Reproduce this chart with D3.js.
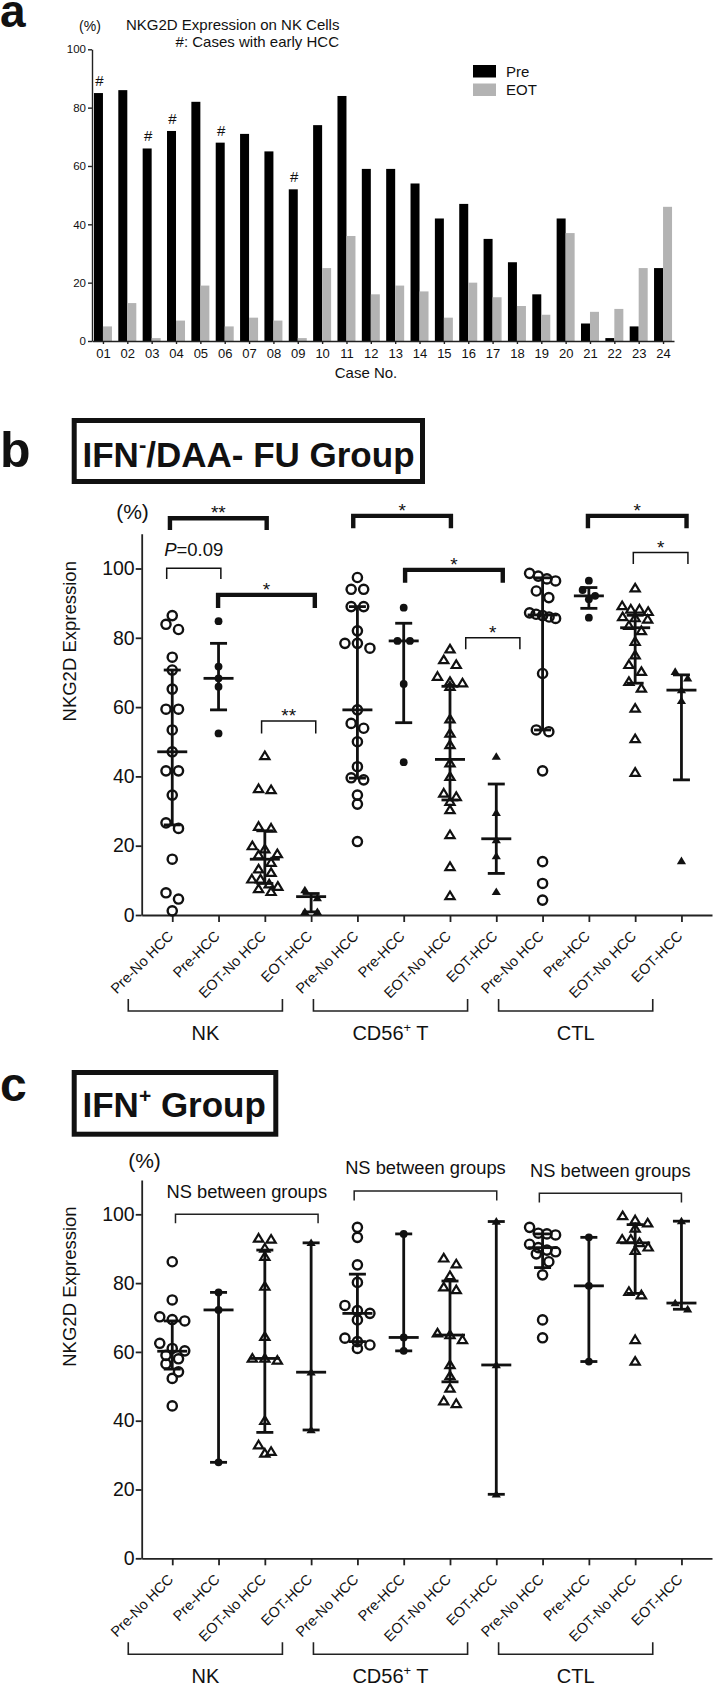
<!DOCTYPE html>
<html><head><meta charset="utf-8">
<script src="https://cdn.jsdelivr.net/npm/d3@7"></script>
<style>
body{margin:0;background:#fff;}
svg{display:block;font-family:"Liberation Sans",Arial,Helvetica,sans-serif;}
</style></head><body>
<svg id="chart" width="714" height="1688"></svg>
<script>
// ---------------- DATA ----------------
// Panel a
const cases = ["01","02","03","04","05","06","07","08","09","10","11","12","13","14","15","16","17","18","19","20","21","22","23","24"];
const preValues = [85,86,66,72,82,68,71,65,52,74,84,59,59,54,42,47,35,27,16,42,6,1,5,25];
const eotValues = [5,13,1,7,19,5,8,7,1,25,36,16,19,17,8,20,15,12,9,37,10,11,25,46];
const earlyHCC = ["01","03","04","06","09"];
const ticksA = [0,20,40,60,80,100];

// Panels b, c categories
const subgroups = ["Pre-No HCC","Pre-HCC","EOT-No HCC","EOT-HCC"];
const cellTypes = ["NK","CD56","CTL"];
const markerKinds = ["openCircle","filledCircle","openTriangle","filledTriangle"];
const ticksBC = [0,20,40,60,80,100];

// Panel b: IFN-/DAA- FU group (order: Pre-No HCC, Pre-HCC, EOT-No HCC, EOT-HCC)
const bNK = [
  [86.4,83.9,82.4,74.4,70.7,65.2,59.4,59.4,53.4,47.1,41.6,41.6,34.6,26.6,25.0,16.1,6.4,4.6,1.2],
  [84.8,71.7,68.3,65.9,52.4],
  [45.9,36.4,36.1,25.5,25.0,19.9,19.0,17.6,17.3,15.1,13.2,12.2,10.3,10.3,8.9,8.2,7.5,6.7],
  [7.2,4.9,0.9,0.9]
];
const bCD56 = [
  [97.4,94.0,94.0,89.0,89.0,82.0,78.4,78.4,77.0,59.2,55.3,53.9,50.0,42.8,39.6,39.0,34.6,32.0,21.2],
  [88.7,79.1,79.1,66.7,44.1],
  [76.7,73.6,72.2,68.8,67.3,66.9,65.9,56.5,52.4,49.1,43.8,39.9,35.1,34.1,32.7,30.3,23.1,13.9,5.5],
  [45.7,29.5,21.6,17.0,6.7]
];
const bCTL = [
  [98.6,97.8,97.0,96.4,93.5,91.6,87.2,86.8,86.4,86.0,85.6,69.7,53.4,52.9,41.6,15.4,9.1,4.3],
  [96.5,93.8,92.1,91.1,85.8],
  [94.3,89.2,88.2,88.2,87.5,86.0,85.7,85.3,83.5,82.0,78.9,75.0,72.2,70.2,67.3,65.4,59.6,50.8,41.1],
  [70.2,68.3,64.9,61.8,15.6]
];
// median, lower and upper bar (interquartile range) as read, 12 groups
const bMedian = [47.1,68.3,16.1,5.3, 59.2,79.1,44.9,22.0, 86.6,92.1,82.9,64.9];
const bLow    = [26.0,59.2,9.1,0.9,  39.5,55.5,33.2,12.0, 53.4,88.5,66.9,39.0];
const bHigh   = [70.7,78.4,24.3,6.2, 89.0,84.2,66.0,37.8, 97.3,94.5,86.5,69.3];
// significance brackets: from / to in category index units, top & leg in %
const bSigFrom  = [-0.05,-0.12,0.99,1.93, 3.91,5.03,6.34, 8.98,9.96];
const bSigTo    = [2.04,1.05,3.08,3.10, 6.02,7.14,7.51, 11.11,11.14];
const bSigTop   = [114.5,100.1,92.4,56.0, 115.2,99.6,80.0, 115.2,104.6];
const bSigLeg   = [111.1,97.0,88.6,52.4, 111.6,95.9,76.7, 111.6,101.3];
const bSigLabel = ["**","","*","**", "*","*","*", "*","*"];
const bSigThick = [true,false,true,false, true,true,false, true,false];

// Panel c: IFN+ group
const cNK = [
  [86.2,75.1,70.2,69.4,69.0,62.5,61.0,60.3,59.0,58.0,56.5,54.2,52.3,44.3],
  [77.3,72.2,27.9],
  [93.0,92.7,90.1,87.7,79.0,64.4,58.1,58.1,57.5,40.0,32.9,31.0,30.5],
  [91.7,54.1,37.3]
];
const cCD56 = [
  [96.2,93.3,85.3,80.2,73.5,72.0,71.2,69.3,64.0,63.0,62.0,61.0],
  [94.3,64.2,60.3],
  [87.2,85.5,82.1,78.8,78.0,65.4,64.9,63.5,56.2,53.0,49.4,45.7,44.9],
  [97.9,56.2,18.6]
];
const cCTL = [
  [96.2,94.5,94.3,94.0,91.3,90.3,89.6,89.1,88.5,86.2,82.4,69.3,64.1],
  [93.3,79.2,57.2],
  [99.5,98.3,97.4,95.9,92.7,92.7,91.7,90.4,89.4,77.5,76.5,63.5,57.2],
  [98.0,74.2,72.4]
];
const cMedian = [60.2,72.2,58.1,54.1, 71.2,64.2,64.9,56.2, 90.3,79.2,91.7,74.2];
const cLow    = [55.0,27.9,36.6,37.3, 63.0,60.3,51.3,18.6, 84.5,57.2,77.0,72.4];
const cHigh   = [69.0,77.3,89.6,91.7, 82.6,94.3,80.6,97.9, 94.3,93.3,97.0,98.0];
const cSigFrom = [0.07,3.93,7.93];
const cSigTo   = [3.15,7.01,11.0];
const cSigTop  = [100.0,106.8,106.1];
const cSigLeg  = [97.4,104.0,103.4];

// ---------------- DRAW ----------------
const svg = d3.select("#chart");
const INK = "#111";

// ===== Panel a =====
const xA = d3.scalePoint().domain(cases).range([92, 674]).padding(0.45);
const yA = d3.scaleLinear().domain([0,100]).range([341, 49.3]);
const barW = 9;
const gA = svg.append("g");

gA.append("text").attr("x",0).attr("y",27).attr("font-size",46).attr("font-weight","bold").attr("fill",INK).text("a");
gA.append("text").attr("x",90).attr("y",31).attr("text-anchor","middle").attr("font-size",14).attr("fill",INK).text("(%)");
gA.append("text").attr("x",126).attr("y",30).attr("font-size",15).attr("fill",INK).text("NKG2D Expression on NK Cells");
gA.append("text").attr("x",339).attr("y",47).attr("text-anchor","end").attr("font-size",15).attr("fill",INK).text("#: Cases with early HCC");

gA.selectAll("rect.pre").data(cases).join("rect").attr("class","pre")
  .attr("x",d=>xA(d)-barW).attr("width",barW)
  .attr("y",(d,i)=>yA(preValues[i])).attr("height",(d,i)=>yA(0)-yA(preValues[i]))
  .attr("fill","#000");
gA.selectAll("rect.eot").data(cases).join("rect").attr("class","eot")
  .attr("x",d=>xA(d)).attr("width",barW)
  .attr("y",(d,i)=>yA(eotValues[i])).attr("height",(d,i)=>yA(0)-yA(eotValues[i]))
  .attr("fill","#b3b3b3");
gA.selectAll("text.hash").data(earlyHCC).join("text").attr("class","hash")
  .attr("x",d=>xA(d)-barW/2+1).attr("y",d=>yA(preValues[cases.indexOf(d)])-7)
  .attr("text-anchor","middle").attr("font-size",15).attr("fill",INK).text("#");

const axA = gA.append("g").attr("transform",`translate(${xA.range()[0]},0)`)
  .call(d3.axisLeft(yA).tickValues(ticksA).tickSize(4).tickSizeOuter(0).tickPadding(2));
axA.selectAll("text").attr("font-size",11.5).attr("font-family","Liberation Sans, Arial").attr("fill",INK);
const axAx = gA.append("g").attr("transform",`translate(0,${yA(0)})`)
  .call(d3.axisBottom(xA).tickSize(3).tickSizeOuter(0).tickPadding(5));
axAx.selectAll("text").attr("font-size",13).attr("font-family","Liberation Sans, Arial").attr("fill",INK);
[axA,axAx].forEach(a=>{a.selectAll("path,line").attr("stroke","#222").attr("stroke-width",1.4);});
gA.append("text").attr("x",366).attr("y",378).attr("text-anchor","middle").attr("font-size",15).attr("fill",INK).text("Case No.");

// legend
const legendA = [{k:"Pre",c:"#000"},{k:"EOT",c:"#b3b3b3"}];
const lg = gA.selectAll("g.lg").data(legendA).join("g").attr("class","lg")
  .attr("transform",(d,i)=>`translate(473,${65+i*18.5})`);
lg.append("rect").attr("width",23).attr("height",12.5).attr("fill",d=>d.c);
lg.append("text").attr("x",33).attr("y",11.5).attr("font-size",15).attr("fill",INK).text(d=>d.k);

// ===== shared helpers for b / c =====
const catKeys = d3.range(12);
const xBC = d3.scalePoint().domain(catKeys).range([141.7, 712]).padding(0.66);
const stepBC = xBC.step();
const xi = v => xBC(0) + v*stepBC;

function layoutPoints(vals, y) {
  const s = vals.map(v=>({v, py:y(v)})).sort((a,b)=>a.py-b.py);
  const out=[]; let i=0;
  while(i<s.length){
    let j=i;
    while(j+1<s.length && s[j+1].py - s[i].py < 8) j++;
    const n=j-i+1;
    const sp = n>1 ? Math.min(12.5, 26/(n-1)) : 0;
    for(let k=0;k<n;k++) out.push({...s[i+k], dx:(k-(n-1)/2)*sp});
    i=j+1;
  }
  return out;
}
function drawMarker(g, kind, x, y) {
  if (kind==="openCircle") {
    g.append("circle").attr("cx",x).attr("cy",y).attr("r",4.6).attr("fill","none").attr("stroke",INK).attr("stroke-width",2.4);
  } else if (kind==="filledCircle") {
    g.append("circle").attr("cx",x).attr("cy",y).attr("r",3.9).attr("fill",INK);
  } else {
    const h=7.6, w=4.6;
    const p = `M${x},${y-h*0.58}L${x+w},${y+h*0.42}L${x-w},${y+h*0.42}Z`;
    if (kind==="openTriangle") g.append("path").attr("d",p).attr("fill","none").attr("stroke",INK).attr("stroke-width",2.2).attr("stroke-linejoin","miter");
    else g.append("path").attr("d",p).attr("fill",INK);
  }
}
function supText(sel, parts) {
  parts.forEach(p=>{
    const t = sel.append("tspan").text(p.t);
    if (p.size) t.attr("font-size",p.size);
    if (p.dy) t.attr("dy",p.dy);
  });
}

function drawScatterPanel(opts) {
  const {g, y, groups, med, low, high} = opts;
  const y0 = y(0);
  // axes
  const ay = g.append("g").attr("transform",`translate(${xBC.range()[0]},0)`)
    .call(d3.axisLeft(y).tickValues(ticksBC).tickSize(6).tickSizeOuter(0).tickPadding(1));
  ay.selectAll("text").attr("font-size",19.5).attr("font-family","Liberation Sans, Arial").attr("fill",INK);
  const ax = g.append("g").attr("transform",`translate(0,${y0})`)
    .call(d3.axisBottom(xBC).tickSize(7).tickSizeOuter(0).tickFormat(""));
  [ay,ax].forEach(a=>{a.selectAll("path,line").attr("stroke","#222").attr("stroke-width",1.8);});
  // rotated category labels
  g.selectAll("text.cat").data(catKeys).join("text").attr("class","cat")
    .attr("transform",d=>`translate(${xBC(d)+2},${y0+22}) rotate(-45)`)
    .attr("text-anchor","end").attr("font-size",14.5).attr("fill",INK)
    .text(d=>subgroups[d%4]);
  // group brackets + labels
  cellTypes.forEach((ct,ci)=>{
    const x1 = xBC(ci*4) - 0.95*stepBC, x2 = xBC(ci*4+3) - 0.62*stepBC;
    g.append("path").attr("d",`M${x1},${y0+84}V${y0+96}H${x2}V${y0+84}`)
      .attr("fill","none").attr("stroke","#222").attr("stroke-width",1.6);
    const t = g.append("text").attr("x",(x1+x2)/2).attr("y",y0+125).attr("text-anchor","middle").attr("font-size",20).attr("fill",INK);
    if (ct==="CD56") supText(t,[{t:"CD56"},{t:"+",size:13,dy:-8},{t:" T",dy:8}]);
    else t.text(ct);
  });
  // points + error bars
  groups.forEach((vals,gi)=>{
    const cx = xBC(gi);
    const kind = markerKinds[gi%4];
    layoutPoints(vals,y).forEach(p=>drawMarker(g,kind,cx+p.dx,p.py));
    const eb = g.append("g").attr("stroke",INK).attr("stroke-width",2.8).attr("fill","none");
    eb.append("line").attr("x1",cx).attr("x2",cx).attr("y1",y(low[gi])).attr("y2",y(high[gi]));
    eb.append("line").attr("x1",cx-15).attr("x2",cx+15).attr("y1",y(med[gi])).attr("y2",y(med[gi]));
    [low[gi],high[gi]].forEach(v=>eb.append("line").attr("x1",cx-8.5).attr("x2",cx+8.5).attr("y1",y(v)).attr("y2",y(v)));
  });
}

// ===== Panel b =====
const yB = d3.scaleLinear().domain([0,110]).range([915, 915-110*3.465]);
const gB = svg.append("g");
gB.append("text").attr("x",0).attr("y",467).attr("font-size",50).attr("font-weight","bold").attr("fill",INK).text("b");
gB.append("rect").attr("x",74.2).attr("y",420.5).attr("width",348.3).attr("height",61).attr("fill","none").attr("stroke",INK).attr("stroke-width",5);
{
  const t = gB.append("text").attr("x",82.5).attr("y",466.5).attr("font-size",35).attr("font-weight","bold").attr("fill",INK);
  supText(t,[{t:"IFN"},{t:"-",size:22,dy:-15},{t:"/DAA- FU Group",dy:15}]);
}
gB.append("text").attr("x",132.5).attr("y",519).attr("text-anchor","middle").attr("font-size",21).attr("fill",INK).text("(%)");
gB.append("text").attr("transform",`translate(76,${yB(79)}) rotate(-90)`).attr("text-anchor","middle").attr("font-size",18.5).attr("fill",INK).text("NKG2D Expression");
drawScatterPanel({g:gB, y:yB, groups:[...bNK,...bCD56,...bCTL], med:bMedian, low:bLow, high:bHigh});
bSigFrom.forEach((f,i)=>{
  const x1=xi(f), x2=xi(bSigTo[i]), yt=yB(bSigTop[i]), yl=yB(bSigLeg[i]);
  gB.append("path").attr("d",`M${x1},${yl}V${yt}H${x2}V${yl}`).attr("fill","none")
    .attr("stroke",INK).attr("stroke-width",bSigThick[i]?4.4:1.5).attr("stroke-linejoin","miter");
  if (bSigLabel[i]) gB.append("text").attr("x",(x1+x2)/2).attr("y",yt+1).attr("text-anchor","middle").attr("font-size",19).attr("fill",INK).text(bSigLabel[i]);
});
{
  const i=1, x1=xi(bSigFrom[i]), x2=xi(bSigTo[i]);
  const t = gB.append("text").attr("x",(x1+x2)/2).attr("y",yB(bSigTop[i])-12).attr("text-anchor","middle").attr("font-size",18.5).attr("fill",INK);
  t.append("tspan").attr("font-style","italic").text("P");
  t.append("tspan").text("=0.09");
}

// ===== Panel c =====
const yC = d3.scaleLinear().domain([0,110]).range([1558.3, 1558.3-110*3.44]);
const gC = svg.append("g");
gC.append("text").attr("x",0).attr("y",1101).attr("font-size",48).attr("font-weight","bold").attr("fill",INK).text("c");
gC.append("rect").attr("x",74.2).attr("y",1072.5).attr("width",201.6).attr("height",61.7).attr("fill","none").attr("stroke",INK).attr("stroke-width",5);
{
  const t = gC.append("text").attr("x",82.5).attr("y",1117.3).attr("font-size",35).attr("font-weight","bold").attr("fill",INK);
  supText(t,[{t:"IFN"},{t:"+",size:21,dy:-14},{t:" Group",dy:14}]);
}
gC.append("text").attr("x",144.5).attr("y",1168).attr("text-anchor","middle").attr("font-size",21).attr("fill",INK).text("(%)");
gC.append("text").attr("transform",`translate(76,${yC(79)}) rotate(-90)`).attr("text-anchor","middle").attr("font-size",18.5).attr("fill",INK).text("NKG2D Expression");
drawScatterPanel({g:gC, y:yC, groups:[...cNK,...cCD56,...cCTL], med:cMedian, low:cLow, high:cHigh});
cSigFrom.forEach((f,i)=>{
  const x1=xi(f), x2=xi(cSigTo[i]), yt=yC(cSigTop[i]), yl=yC(cSigLeg[i]);
  gC.append("path").attr("d",`M${x1},${yl}V${yt}H${x2}V${yl}`).attr("fill","none").attr("stroke","#222").attr("stroke-width",1.5);
  gC.append("text").attr("x",(x1+x2)/2).attr("y",yt-16.5).attr("text-anchor","middle").attr("font-size",18.3).attr("fill",INK).text("NS between groups");
});
</script>
</body></html>
